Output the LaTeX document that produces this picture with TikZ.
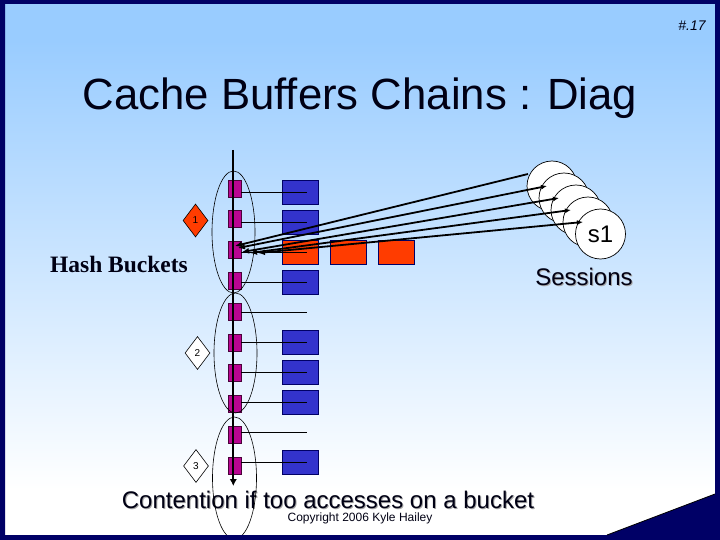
\documentclass[tikz,border=0pt]{standalone}
\usepackage{fontspec}
\setmainfont{Liberation Sans}
\newfontfamily\serifbold{Liberation Serif}
\usetikzlibrary{shapes.geometric,arrows.meta}
\definecolor{navyb}{RGB}{0,0,102}
\definecolor{topblue}{RGB}{153,204,255}
\definecolor{pinkb}{RGB}{185,5,145}
\definecolor{blueb}{RGB}{51,51,204}
\definecolor{orangeb}{RGB}{255,60,0}
\definecolor{inkb}{RGB}{0,0,20}
\tikzset{
  bucket/.style={draw=black!60!pinkb,fill=pinkb,line width=.5pt,minimum width=13pt,minimum height=17pt,inner sep=0pt,outer sep=0pt},
  bufb/.style={draw=navyb,fill=blueb,line width=.8pt,minimum width=36pt,minimum height=24pt,inner sep=0pt},
  bufo/.style={draw=navyb,fill=orangeb,line width=.8pt,minimum width=36pt,minimum height=24pt,inner sep=0pt},
  link/.style={draw=black,line width=.9pt},
  ring/.style={ellipse,draw=black,line width=.6pt,inner sep=0pt,fill=none},
  sess/.style={circle,draw=black,fill=white,line width=.7pt,minimum size=50pt,inner sep=0pt},
  dia/.style={diamond,draw=black,line width=.6pt,minimum width=25pt,minimum height=33pt,inner sep=0pt,font=\fontsize{10}{10}\selectfont},
  hit/.style={draw=black,line width=1.8pt,{Latex[length=7pt,width=6pt]}-{Latex[length=6pt,width=5pt]}},
  txt/.style={inner sep=0pt,text=inkb,anchor=base},
}
\begin{document}
\begin{tikzpicture}[x=1pt,y=-1pt]
\useasboundingbox (0,0) rectangle (720,540);
\shade[top color=topblue,bottom color=white,shading angle=0] (0,40) rectangle (720,490);
\fill[topblue] (0,0) rectangle (720,40);
\fill[white] (0,490) rectangle (720,540);
% title etc
\node[txt] (title) at (360,109.5) {\fontsize{43.7}{44}\selectfont Cache Buffers Chains : Diag};
\node[txt] (num) at (692,31) {\fontsize{14}{14}\selectfont\itshape \#.17};
\node[txt] (hash) at (119,272) {\serifbold\bfseries\fontsize{23.5}{24}\selectfont Hash Buckets};
\foreach \dx/\dy/\c in {1/1/black!35,0/0/inkb}{
  \node[inner sep=0pt,anchor=base,text=\c] at (584+\dx,285+\dy) {\fontsize{24}{24}\selectfont Sessions};
  \node[inner sep=0pt,anchor=base,text=\c] at (328+\dx,508+\dy) {\fontsize{24}{24}\selectfont Contention if too accesses on a bucket};
}
\node[txt] (copy) at (360,521) {\fontsize{12}{12}\selectfont Copyright 2006 Kyle Hailey};
% buffers
\node[bufb] (b1) at (300.5,192) {};
\node[bufb] (b2) at (300.5,222) {};
\node[bufo] (o1) at (300.5,252) {};
\node[bufo] (o2) at (348.5,252) {};
\node[bufo] (o3) at (396.5,252) {};
\node[bufb] (b4) at (300.5,282) {};
\node[bufb] (b6) at (300.5,342) {};
\node[bufb] (b7) at (300.5,372) {};
\node[bufb] (b8) at (300.5,402) {};
\node[bufb] (b10) at (300.5,462) {};
% buckets and links
\foreach \i/\y in {1/188.5,2/219,3/250,4/281,5/311.5,6/342.5,7/372.5,8/404,9/434.5,10/466}{
  \node[bucket] (p\i) at (234.5,\y) {};
}
\foreach \i/\y in {1/192,2/222,3/252,4/282,5/312,6/342,7/372,8/402,9/432,10/462}{
  \coordinate (e\i) at (307,\y);
  \draw[link] (p\i.east |- e\i) -- (e\i);
}
% spine
\coordinate (spinetop) at (233.3,150);
\coordinate (spineend) at (233.3,486);
\draw[line width=1.8pt,-{Latex[length=7pt,width=7.5pt]}] (spinetop) -- (spineend);
% chains
\node[ring,minimum width=43pt,minimum height=122pt] (r1) at (233.5,232) {};
\node[ring,minimum width=43pt,minimum height=120pt] (r2) at (235.5,353) {};
\node[ring,minimum width=44pt,minimum height=122pt] (r3) at (234.5,478) {};
% latches
\node[dia,fill=orangeb] (d1) at (195.5,220.5) {1};
\node[dia,fill=white] (d2) at (197.5,353) {2};
\node[dia,fill=white] (d3) at (196,466) {3};
% sessions
\node[sess] (s5) at (552,186) {};
\node[sess] (s4) at (564,198) {};
\node[sess] (s3) at (576,210) {};
\node[sess] (s2) at (588,222) {};
\node[sess] (s1) at (600.5,234) {\fontsize{24}{24}\selectfont s1};
% session arrows
\coordinate (a1) at (235,246); \coordinate (z1) at (528,174);
\coordinate (a2) at (238,248); \coordinate (z2) at (547,186);
\coordinate (a3) at (242,252); \coordinate (z3) at (559,198);
\coordinate (a4) at (250,253); \coordinate (z4) at (571,210);
\coordinate (a5) at (258,253); \coordinate (z5) at (583,222);
\draw[line width=1.8pt,{Latex[length=7pt,width=6pt]}-] (a1) -- (z1);
\foreach \i in {2,3,4,5}{ \draw[hit] (a\i) -- (z\i); }
% frame
\fill[navyb,even odd rule] (0,0) rectangle (720,540) (5,4) rectangle (715,535);
\fill[navyb] (607,535) -- (715,494) -- (715,535) -- cycle;
\draw[black,line width=.8pt] (607,535) -- (715,494);
\end{tikzpicture}
\end{document}
